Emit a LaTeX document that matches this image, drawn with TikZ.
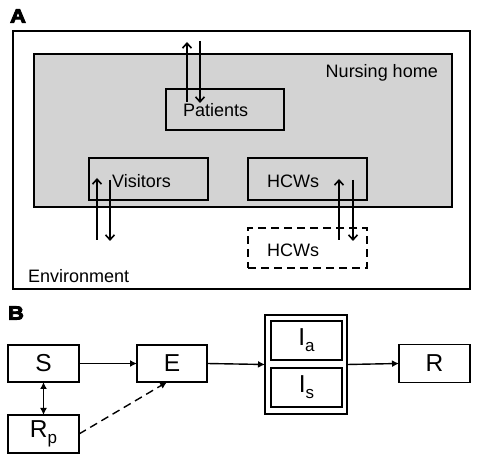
\documentclass[tikz,border=0pt]{standalone}
\usepackage{fontspec}
\setmainfont{Liberation Sans}
\newfontfamily\heavyfont[FakeBold=5,FakeStretch=1.15]{Liberation Sans}
\usetikzlibrary{arrows.meta,calc}
\definecolor{nhgray}{RGB}{211,211,211}
\begin{document}
\begin{tikzpicture}[x=1pt,y=-1pt,
  box/.style={draw, line width=1.6pt, inner sep=0pt, outer sep=0pt},
  lbl/.style={inner sep=0pt, font=\fontsize{18}{20}\selectfont},
  big/.style={font=\fontsize{24.5}{24.5}\selectfont},
  panel/.style={inner sep=0pt, font=\heavyfont\bfseries\fontsize{19}{19}\selectfont},
  flow/.style={line width=1.6pt, -{Straight Barb[length=5pt,width=9pt,line width=1.6pt]}},
  sflow/.style={line width=1.4pt, -{Latex[length=7pt,width=7pt]}}
]
\useasboundingbox (0,0) rectangle (480,462);

% ---------- Panel A ----------
\node[panel] (labA) at (18,16) {A};
\node[box, line width=2pt, minimum width=457pt, minimum height=258pt] (env) at (241.5,160) {};
\node[box, fill=nhgray, minimum width=418pt, minimum height=153pt] (nh) at (243,130.5) {};
\node[lbl, anchor=base east] (nhtxt) at (438,78) {Nursing home};

\node[box, minimum width=118pt, minimum height=41pt] (pat) at (225,109.5) {};
\node[lbl, anchor=base west] (pattxt) at (183,117) {Patients};

\node[box, minimum width=119pt, minimum height=42pt] (vis) at (148.5,179) {};
\node[lbl, anchor=base west] (vistxt) at (112,188) {Visitors};

\node[box, minimum width=119pt, minimum height=42pt] (hcw) at (307.5,179) {};
\node[lbl, anchor=base west] (hcwtxt) at (267,188) {HCWs};

\node[box, dashed, dash pattern=on 8pt off 5pt, minimum width=119pt, minimum height=40pt] (hcwout) at (307.5,248) {};
\node[lbl, anchor=base west] (hcwouttxt) at (267,257) {HCWs};

\node[lbl, anchor=base west] (envtxt) at (28,283) {Environment};

% arrows panel A
\coordinate (pu1) at (187,102); \coordinate (pu2) at (187,42);
\coordinate (pd1) at (200,41);  \coordinate (pd2) at (200,103);
\draw[flow] (pu1) -- (pu2);
\draw[flow] (pd1) -- (pd2);
\coordinate (vu1) at (97,240); \coordinate (vu2) at (97,178);
\coordinate (vd1) at (110,180); \coordinate (vd2) at (110,241);
\draw[flow] (vu1) -- (vu2);
\draw[flow] (vd1) -- (vd2);
\coordinate (hu1) at (339,240); \coordinate (hu2) at (339,179);
\coordinate (hd1) at (353,180); \coordinate (hd2) at (353,241);
\draw[flow] (hu1) -- (hu2);
\draw[flow] (hd1) -- (hd2);

% ---------- Panel B ----------
\node[panel] (labB) at (16,313) {B};
\node[box, big, minimum width=71pt, minimum height=37pt] (S) at (43.5,363.5) {S};
\node[box, big, minimum width=70pt, minimum height=37pt] (E) at (172,363.5) {E};
\node[box, minimum width=82pt, minimum height=99pt] (I) at (306,364.5) {};
\node[box, big, minimum width=71pt, minimum height=39pt] (Ia) at (306.5,340.5) {I\raisebox{-6pt}{\fontsize{17}{17}\selectfont a}};
\node[box, big, minimum width=71pt, minimum height=39pt] (Is) at (306.5,387.5) {I\raisebox{-6pt}{\fontsize{17}{17}\selectfont s}};
\node[box, big, minimum width=71pt, minimum height=38pt] (R) at (434.5,363.5) {R};
\node[box, big, minimum width=71pt, minimum height=38pt] (Rp) at (43.5,434) {R\raisebox{-6pt}{\fontsize{17}{17}\selectfont p}};

\draw[sflow] (S.east) -- (E.west);
\draw[sflow] (E.east) -- (I.west);
\draw[sflow] (I.east) -- (R.west);
\draw[line width=1.4pt, {Latex[length=7pt,width=7pt]}-{Latex[length=7pt,width=7pt]}] (S.south) -- (Rp.north);
\draw[sflow, dashed, dash pattern=on 8pt off 5pt] (Rp.east) -- ($(E.south west)!0.43!(E.south east)$);
\end{tikzpicture}
\end{document}
